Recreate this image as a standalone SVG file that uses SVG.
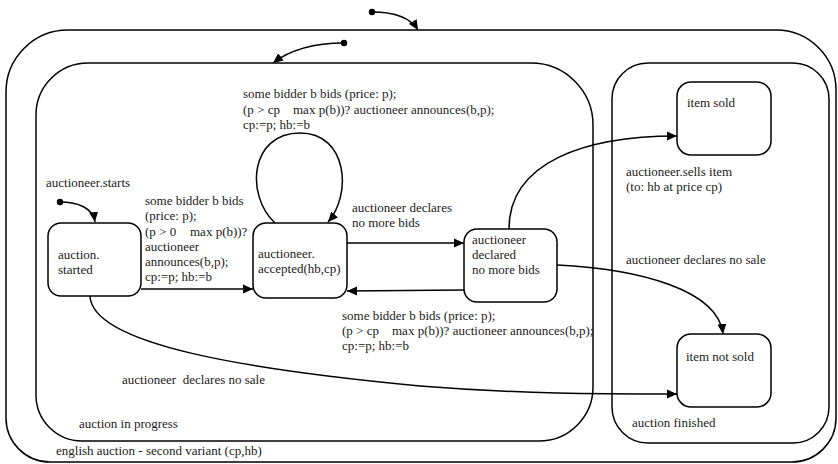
<svg xmlns="http://www.w3.org/2000/svg" width="838" height="464" viewBox="0 0 838 464" font-family="'Liberation Serif', 'DejaVu Serif', serif" font-size="13">
  <style>
    .frame { fill: none; stroke: #000; stroke-width: 1.5; }
    .state { fill: #fff; stroke: #000; stroke-width: 1.5; }
    .edge { fill: none; stroke: #000; stroke-width: 1.5; }
    .init { fill: #000; }
    text { font-family: 'Liberation Serif', 'DejaVu Serif', serif; font-size: 13px; fill: #1a1a1a; }
  </style>
  <defs>
    <marker id="arrow" viewBox="0 0 10 10" refX="10" refY="5" markerWidth="10" markerHeight="10" markerUnits="userSpaceOnUse" orient="auto">
      <path d="M0,0.5 L10,5 L0,9.5 Z" fill="#000"/>
    </marker>
  </defs>

  <!-- composite state: english auction -->
  <g id="english-auction">
    <path class="frame" d="M68,30 H776 A60,60 0 0 1 836,90 V418 A44,44 0 0 1 792,462 H50 A44,44 0 0 1 6,418 V92 A62,62 0 0 1 68,30 Z"/>
    <text x="56" y="455">english auction - second variant (cp,hb)</text>
  </g>

  <!-- composite state: auction in progress -->
  <g id="auction-in-progress">
    <path class="frame" d="M88,63 H531 A62,62 0 0 1 593,125 V387 A54,54 0 0 1 539,441 H82 A46,46 0 0 1 36,395 V115 A52,52 0 0 1 88,63 Z"/>
    <text x="79" y="428">auction in progress</text>
  </g>

  <!-- composite state: auction finished -->
  <g id="auction-finished">
    <rect class="frame" x="612" y="63" width="217" height="380" rx="36" ry="36"/>
    <text x="632" y="427">auction finished</text>
  </g>

  <!-- simple states -->
  <g id="auction-started">
    <rect class="state" x="48" y="223" width="93" height="73" rx="13" ry="13"/>
    <text x="58" y="259">auction.</text>
    <text x="58" y="274">started</text>
  </g>
  <g id="auctioneer-accepted">
    <rect class="state" x="253" y="223" width="94" height="75" rx="13" ry="13"/>
    <text x="258" y="258">auctioneer.</text>
    <text x="258" y="273">accepted(hb,cp)</text>
  </g>
  <g id="auctioneer-declared">
    <rect class="state" x="464" y="229" width="93" height="73" rx="13" ry="13"/>
    <text x="472" y="244">auctioneer</text>
    <text x="472" y="259">declared</text>
    <text x="472" y="274">no more bids</text>
  </g>
  <g id="item-sold">
    <rect class="state" x="677" y="82" width="94" height="73" rx="14" ry="14"/>
    <text x="687" y="107">item sold</text>
  </g>
  <g id="item-not-sold">
    <rect class="state" x="677" y="334" width="94" height="73" rx="14" ry="14"/>
    <text x="686" y="361">item not sold</text>
  </g>

  <!-- transitions -->
  <g id="connectors">
    <circle class="init" cx="372" cy="12" r="3.2"/>
    <path class="edge" d="M372,12 C395,12 410,17 418,30" marker-end="url(#arrow)"/>
    <circle class="init" cx="344" cy="43" r="3.2"/>
    <path class="edge" d="M344,43 C312,43 290,50 273,63" marker-end="url(#arrow)"/>
    <circle class="init" cx="60" cy="202" r="3.2"/>
    <path class="edge" d="M60,202 C78,202 93,208 95,222" marker-end="url(#arrow)"/>

    <path class="edge" d="M141,289 L253,289" marker-end="url(#arrow)"/>
    <path class="edge" d="M275,223 C245,195 250,133 300,133 C348,133 352,195 328,222" marker-end="url(#arrow)"/>
    <path class="edge" d="M347,243 L464,243" marker-end="url(#arrow)"/>
    <path class="edge" d="M464,290 L347,291" marker-end="url(#arrow)"/>
    <path class="edge" d="M509,229 C509,162 585,136 677,136" marker-end="url(#arrow)"/>
    <path class="edge" d="M557,265 C640,269 718,290 723,334" marker-end="url(#arrow)"/>
    <path class="edge" d="M90,296 C92,345 250,370 420,386 C520,394 600,394 677,394" marker-end="url(#arrow)"/>
  </g>

  <!-- transition labels -->
  <g id="labels">
    <text x="46" y="187">auctioneer.starts</text>

    <text x="145" y="205">some bidder b bids</text>
    <text x="145" y="220">(price: p);</text>
    <text x="145" y="236">(p &gt; 0<tspan x="190">max p(b))?</tspan></text>
    <text x="145" y="251">auctioneer</text>
    <text x="145" y="266">announces(b,p);</text>
    <text x="145" y="281">cp:=p; hb:=b</text>

    <text x="243" y="98">some bidder b bids (price: p);</text>
    <text x="243" y="114">(p &gt; cp<tspan x="293">max p(b))? auctioneer announces(b,p);</tspan></text>
    <text x="243" y="129">cp:=p; hb:=b</text>

    <text x="352" y="212">auctioneer declares</text>
    <text x="352" y="227">no more bids</text>

    <text x="342" y="320">some bidder b bids (price: p);</text>
    <text x="342" y="335">(p &gt; cp<tspan x="392">max p(b))? auctioneer announces(b,p);</tspan></text>
    <text x="342" y="350">cp:=p; hb:=b</text>

    <text x="122" y="384" style="white-space: pre">auctioneer  declares no sale</text>

    <text x="626" y="176">auctioneer.sells item</text>
    <text x="626" y="191">(to: hb at price cp)</text>

    <text x="626" y="264">auctioneer declares no sale</text>
  </g>
</svg>
